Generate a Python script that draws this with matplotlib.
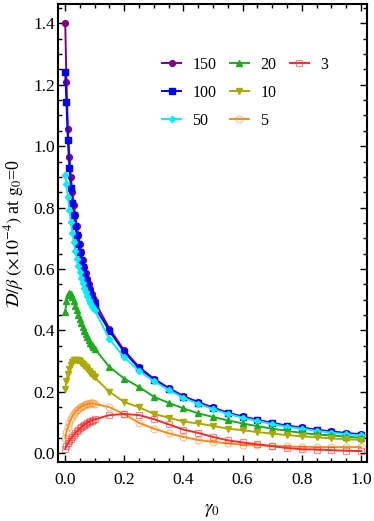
import matplotlib
matplotlib.use("Agg")
import matplotlib.pyplot as plt
from matplotlib.ticker import MultipleLocator, FormatStrFormatter
from matplotlib.colors import to_rgba
from matplotlib.lines import Line2D

plt.rcParams['mathtext.fontset'] = 'stix'
plt.rcParams['font.family'] = ['Liberation Serif', 'DejaVu Serif']

gamma_fine = [0.001, 0.005, 0.01, 0.015, 0.02, 0.025, 0.03, 0.035, 0.04, 0.045, 0.05,
              0.055, 0.06, 0.065, 0.07, 0.075, 0.08, 0.085, 0.09, 0.095, 0.1]
gamma_coarse = [0.15, 0.2, 0.25, 0.3, 0.35, 0.4, 0.45, 0.5, 0.55, 0.6, 0.65, 0.7,
                0.75, 0.8, 0.85, 0.9, 0.95, 1.0]
gamma0 = gamma_fine + gamma_coarse

labels = ['150', '100', '50', '20', '10', '5', '3']

d150 = [1.40, 1.21, 1.055, 0.965, 0.90, 0.85, 0.81, 0.775, 0.74, 0.71, 0.68, 0.655, 0.63,
        0.607, 0.587, 0.568, 0.55, 0.535, 0.52, 0.507, 0.495,
        0.406, 0.335, 0.281, 0.243, 0.213, 0.186, 0.167, 0.149, 0.132, 0.120, 0.109, 0.099,
        0.090, 0.084, 0.077, 0.071, 0.066, 0.062]
d100 = [1.24, 1.143, 1.02, 0.93, 0.865, 0.815, 0.775, 0.74, 0.71, 0.68, 0.655, 0.63, 0.607,
        0.585, 0.565, 0.548, 0.532, 0.517, 0.503, 0.49, 0.478,
        0.399, 0.330, 0.277, 0.240, 0.210, 0.183, 0.164, 0.146, 0.130, 0.118, 0.107, 0.097,
        0.088, 0.082, 0.075, 0.069, 0.064, 0.060]
d50 = [0.905, 0.878, 0.835, 0.792, 0.753, 0.718, 0.687, 0.659, 0.634, 0.611, 0.590, 0.571,
       0.554, 0.539, 0.525, 0.512, 0.500, 0.490, 0.481, 0.473, 0.466,
       0.372, 0.312, 0.268, 0.235, 0.206, 0.181, 0.161, 0.144, 0.128, 0.116, 0.105, 0.095,
       0.086, 0.080, 0.073, 0.067, 0.062, 0.058]
d20 = [0.46, 0.495, 0.515, 0.522, 0.518, 0.508, 0.495, 0.481, 0.466, 0.451, 0.437, 0.423,
       0.41, 0.398, 0.387, 0.377, 0.368, 0.36, 0.353, 0.347, 0.341,
       0.281, 0.243, 0.216, 0.184, 0.164, 0.146, 0.130, 0.118, 0.107, 0.097, 0.088, 0.080,
       0.073, 0.066, 0.061, 0.058, 0.054, 0.050]
d10 = [0.21, 0.235, 0.258, 0.275, 0.288, 0.297, 0.302, 0.304, 0.304, 0.302, 0.299, 0.294,
       0.289, 0.285, 0.28, 0.274, 0.268, 0.262, 0.257, 0.252, 0.247,
       0.200, 0.167, 0.150, 0.128, 0.116, 0.103, 0.097, 0.089, 0.080, 0.075, 0.069, 0.064,
       0.059, 0.055, 0.052, 0.048, 0.046, 0.043]
d5 = [0.048, 0.07, 0.086, 0.1, 0.111, 0.12, 0.128, 0.135, 0.14, 0.145, 0.149, 0.152, 0.155,
      0.157, 0.159, 0.16, 0.161, 0.162, 0.162, 0.162, 0.161,
      0.150, 0.127, 0.099, 0.080, 0.065, 0.053, 0.043, 0.037, 0.032, 0.028, 0.026, 0.024,
      0.022, 0.021, 0.020, 0.020, 0.020, 0.020]
d3 = [0.015, 0.024, 0.032, 0.04, 0.047, 0.054, 0.06, 0.066, 0.071, 0.076, 0.081, 0.085,
      0.089, 0.093, 0.096, 0.099, 0.102, 0.104, 0.106, 0.108, 0.11,
      0.124, 0.128, 0.124, 0.111, 0.094, 0.077, 0.066, 0.053, 0.042, 0.035, 0.029, 0.023,
      0.017, 0.013, 0.012, 0.010, 0.008, 0.007]

series = [d150, d100, d50, d20, d10, d5, d3]
colors = ['#800080', '#0000ff', '#00f0ff', '#1faa1f', '#aaaa00', '#ff8a1f', '#ff2a2a']
markers = ['o', 's', 'D', '^', 'v', 'o', 's']
msizes = [4.2, 4.2, 3.2, 3.8, 3.8, 5.0, 5.0]
filled = [True, True, True, True, True, False, False]

fig = plt.figure(figsize=(3.74, 5.21), dpi=100)
ax = fig.add_axes([0.155, 0.113, 0.826, 0.879])

handles = []
for y, c, m, ms, f, lab in zip(series, colors, markers, msizes, filled, labels):
    if f:
        h, = ax.plot(gamma0, y, color=c, lw=1.4, marker=m, ms=ms, mec=c, mfc=c, label=lab)
    else:
        h, = ax.plot(gamma0, y, color=c, lw=1.4, marker=m, ms=ms, mec=to_rgba(c, 0.55),
                     mfc='none', mew=0.8, label=lab)
    handles.append(h)

ax.set_xlim(-0.0236, 1.02)
ax.set_ylim(-0.029, 1.4625)
ax.xaxis.set_major_locator(MultipleLocator(0.2))
ax.xaxis.set_minor_locator(MultipleLocator(0.05))
ax.yaxis.set_major_locator(MultipleLocator(0.2))
ax.yaxis.set_minor_locator(MultipleLocator(0.05))
ax.xaxis.set_major_formatter(FormatStrFormatter('%.1f'))
ax.yaxis.set_major_formatter(FormatStrFormatter('%.1f'))
ax.tick_params(which='both', direction='in', top=True, right=True, width=1.0,
               labelsize=12.5, colors='black')
ax.tick_params(which='major', length=5)
ax.tick_params(which='minor', length=2.8)
ax.tick_params(axis='x', which='both', pad=7)
ax.tick_params(axis='y', which='both', pad=2)
for s in ax.spines.values():
    s.set_linewidth(1.5)

ax.set_xlabel(r'$\gamma_0$', fontsize=13.5, labelpad=10)
ax.set_ylabel(r'$\mathcal{D}/\beta\ (\times 10^{-4})$ at $\mathrm{g}_0$=0', fontsize=13, labelpad=5)

blank = Line2D([], [], linestyle='none', marker='none')
leg_handles = handles + [blank, blank]
leg_labels = labels + ['', '']
leg = ax.legend(leg_handles, leg_labels, ncol=3, loc='upper left',
                bbox_to_anchor=(0.316, 0.899), frameon=False,
                fontsize=11.5, handlelength=1.2, handletextpad=0.7, columnspacing=0.85,
                labelspacing=0.75, borderaxespad=0)

fig.savefig('out.png', dpi=100)
